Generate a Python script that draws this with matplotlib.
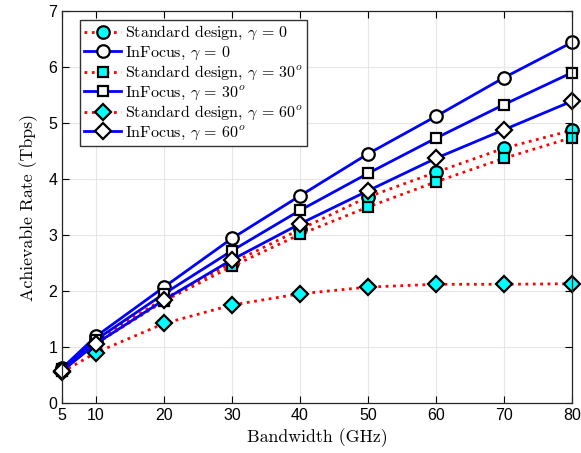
import matplotlib
matplotlib.use('Agg')
import matplotlib.pyplot as plt
import numpy as np

bandwidth = [5, 10, 20, 30, 40, 50, 60, 70, 80]

std_0 = [0.60, 1.12, 1.86, 2.50, 3.10, 3.68, 4.12, 4.55, 4.87]
focus_0 = [0.62, 1.19, 2.07, 2.94, 3.70, 4.45, 5.12, 5.81, 6.44]
std_30 = [0.58, 1.06, 1.82, 2.44, 3.01, 3.50, 3.95, 4.37, 4.74]
focus_30 = [0.60, 1.13, 1.95, 2.72, 3.44, 4.10, 4.73, 5.33, 5.90]
std_60 = [0.55, 0.90, 1.42, 1.75, 1.95, 2.07, 2.12, 2.12, 2.13]
focus_60 = [0.57, 1.06, 1.84, 2.56, 3.20, 3.79, 4.37, 4.88, 5.39]

labels = [r'Standard design, $\gamma$ = 0',
          r'InFocus, $\gamma$ = 0',
          r'Standard design, $\gamma$ = 30$^o$',
          r'InFocus, $\gamma$ = 30$^o$',
          r'Standard design, $\gamma$ = 60$^o$',
          r'InFocus, $\gamma$ = 60$^o$']

plt.rcParams['mathtext.fontset'] = 'cm'

fig = plt.figure(figsize=(5.81, 4.53), dpi=100)
ax = fig.add_axes([62 / 581, 50 / 453, 510 / 581, 392 / 453])

series = [(std_0, 'o', ':', 'red', 'cyan'),
          (focus_0, 'o', '-', 'blue', 'white'),
          (std_30, 's', ':', 'red', 'cyan'),
          (focus_30, 's', '-', 'blue', 'white'),
          (std_60, 'D', ':', 'red', 'cyan'),
          (focus_60, 'D', '-', 'blue', 'white')]

for (vals, mk, ls, col, face), lab in zip(series, labels):
    ms = 7.5 if mk == 's' else (8 if mk == 'D' else 9)
    ax.plot(bandwidth, vals, linestyle=ls, color=col, linewidth=2,
            marker=mk, markersize=ms, markerfacecolor=face,
            markeredgecolor='black', markeredgewidth=1.6, label=lab,
            clip_on=False)

ax.set_xlim(5, 80)
ax.set_ylim(0, 7)
ax.set_xticks(bandwidth)
ax.set_yticks(range(0, 8))
ax.tick_params(direction='in', top=True, right=True, labelsize=11.5, length=5)
for t in ax.get_xticklabels() + ax.get_yticklabels():
    t.set_family('Liberation Sans')
ax.grid(True, color='#e6e6e6', linewidth=0.8)
ax.set_axisbelow(True)
for sp in ax.spines.values():
    sp.set_linewidth(0.9)
    sp.set_color('#262626')

ax.set_xlabel('Bandwidth (GHz)', family='cmr10', fontsize=12.8, labelpad=4)
ax.set_ylabel('Achievable Rate (Tbps)', family='cmr10', fontsize=12.8, labelpad=7)

leg = ax.legend(loc='upper left', bbox_to_anchor=(0.03, 0.985),
                prop={'family': 'cmr10', 'size': 11.5}, fancybox=False,
                edgecolor='#333333', framealpha=1, borderpad=0.25,
                labelspacing=0.13, handlelength=2.3, handletextpad=0.25,
                borderaxespad=0.2)
leg.get_frame().set_linewidth(1.0)

fig.savefig('out.png', dpi=100)
